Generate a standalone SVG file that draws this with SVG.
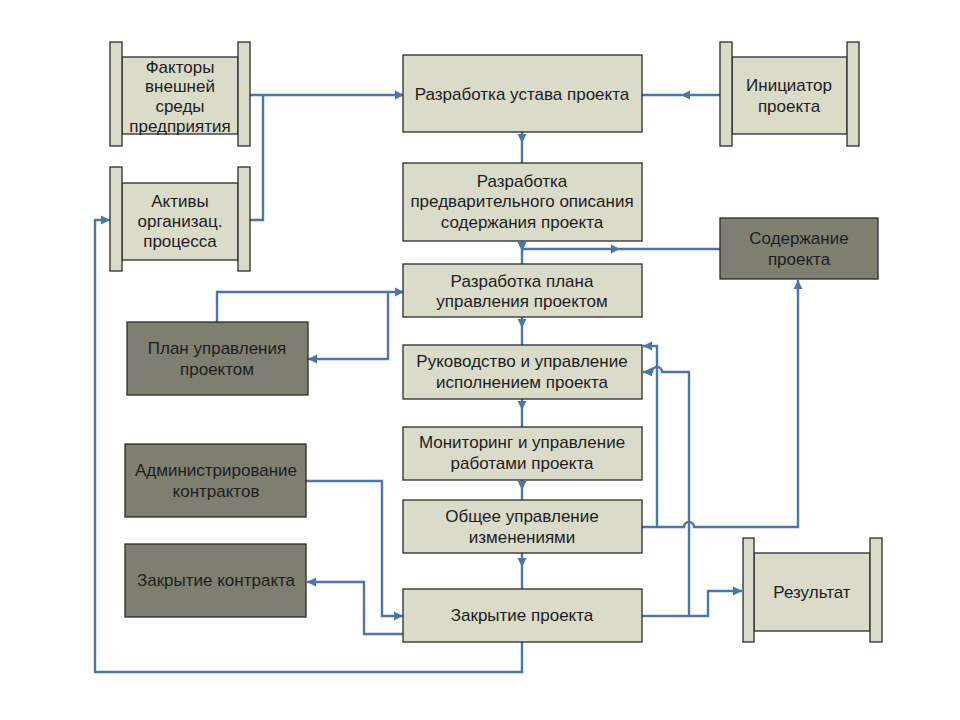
<svg xmlns="http://www.w3.org/2000/svg" xmlns:xlink="http://www.w3.org/1999/xlink" width="960" height="720" viewBox="0 0 960 720">
<style>
.box{fill:#dadbc9;stroke:#2b2b2b;stroke-width:1.3}
.dark{fill:#7e7f71;stroke:#2b2b2b;stroke-width:1.3}
.roll{fill:#dadbc9;stroke:#2b2b2b;stroke-width:1.3}
text{font-family:"Liberation Sans",Arial,sans-serif;font-size:17px;fill:#1e1e1e;text-anchor:middle;dominant-baseline:central}
.ln{fill:none;stroke:#4d75a8;stroke-width:2.4;stroke-linejoin:miter}
.ah{fill:#4d75a8}
</style>
<defs>
<path id="ah" d="M0,0 L-9,-4.5 L-9,4.5 Z"/>
</defs>
<rect width="960" height="720" fill="#ffffff"/>

<g id="connectors">
<path class="ln" d="M250,95 L403,95"/>
<path class="ln" d="M250,220 L263,220 L263,95"/>
<path class="ln" d="M720,95 L642,95"/>
<path class="ln" d="M522,132 L522,163"/>
<path class="ln" d="M522,241 L522,264"/>
<path class="ln" d="M522,249 L720,249"/>
<path class="ln" d="M522,317 L522,345"/>
<path class="ln" d="M522,399 L522,427"/>
<path class="ln" d="M522,480 L522,500"/>
<path class="ln" d="M522,553 L522,589"/>
<path class="ln" d="M217,322 L217,292 L403,292"/>
<path class="ln" d="M388,292 L388,359 L308,359"/>
<path class="ln" d="M657,527 L657,346 L643,346"/>
<path class="ln" d="M689,616 L689,372 L662,372 A5,5 0 0 0 652,372 L643,372"/>
<path class="ln" d="M642,527 L684,527 A5,5 0 0 1 694,527 L798,527 L798,280"/>
<path class="ln" d="M642,616 L708,616 L708,591 L742,591"/>
<path class="ln" d="M306,481 L382,481 L382,616 L403,616"/>
<path class="ln" d="M403,634 L364,634 L364,582 L307,582"/>
<path class="ln" d="M522,642 L522,672 L95,672 L95,220 L110,220"/>
<g class="ah">
<use xlink:href="#ah" transform="translate(404,95)"/>
<use xlink:href="#ah" transform="translate(681,95) rotate(180)"/>
<use xlink:href="#ah" transform="translate(522,143) rotate(90)"/>
<use xlink:href="#ah" transform="translate(522,251) rotate(90)"/>
<use xlink:href="#ah" transform="translate(620,249)"/>
<use xlink:href="#ah" transform="translate(522,328) rotate(90)"/>
<use xlink:href="#ah" transform="translate(522,410) rotate(90)"/>
<use xlink:href="#ah" transform="translate(522,490) rotate(90)"/>
<use xlink:href="#ah" transform="translate(522,567) rotate(90)"/>
<use xlink:href="#ah" transform="translate(404,292)"/>
<use xlink:href="#ah" transform="translate(308,359) rotate(180)"/>
<use xlink:href="#ah" transform="translate(643,346) rotate(180)"/>
<use xlink:href="#ah" transform="translate(643,372) rotate(180)"/>
<use xlink:href="#ah" transform="translate(798,280) rotate(-90)"/>
<use xlink:href="#ah" transform="translate(742,591)"/>
<use xlink:href="#ah" transform="translate(403,616)"/>
<use xlink:href="#ah" transform="translate(307,582) rotate(180)"/>
<use xlink:href="#ah" transform="translate(110,220)"/>
</g>
</g>

<g id="factors">
<rect class="box" x="122" y="57" width="116" height="77"/>
<rect class="roll" x="110" y="42" width="12" height="104"/>
<rect class="roll" x="238" y="42" width="12" height="104"/>
<text x="180" y="67">Факторы</text>
<text x="180" y="86">внешней</text>
<text x="180" y="106">среды</text>
<text x="180" y="126">предприятия</text>
</g>

<g id="assets">
<rect class="box" x="122" y="183" width="116" height="77"/>
<rect class="roll" x="110" y="167" width="12" height="104"/>
<rect class="roll" x="238" y="167" width="12" height="104"/>
<text x="180" y="201">Активы</text>
<text x="180" y="221">организац.</text>
<text x="180" y="241">процесса</text>
</g>

<g id="charter">
<rect class="box" x="403" y="55" width="239" height="77"/>
<text x="522" y="94">Разработка устава проекта</text>
</g>

<g id="initiator">
<rect class="box" x="732" y="57" width="115" height="77"/>
<rect class="roll" x="720" y="42" width="12" height="104"/>
<rect class="roll" x="847" y="42" width="12" height="104"/>
<text x="789" y="85">Инициатор</text>
<text x="789" y="106">проекта</text>
</g>

<g id="scope-prelim">
<rect class="box" x="403" y="163" width="239" height="78"/>
<text x="522" y="181">Разработка</text>
<text x="522" y="201">предварительного описания</text>
<text x="522" y="222">содержания проекта</text>
</g>

<g id="scope">
<rect class="dark" x="720" y="218" width="158" height="61"/>
<text x="799" y="238">Содержание</text>
<text x="799" y="259">проекта</text>
</g>

<g id="plan-dev">
<rect class="box" x="403" y="264" width="239" height="53"/>
<text x="522" y="281">Разработка плана</text>
<text x="522" y="301">управления проектом</text>
</g>

<g id="plan">
<rect class="dark" x="127" y="322" width="181" height="73"/>
<text x="217" y="348">План управления</text>
<text x="217" y="369">проектом</text>
</g>

<g id="execution">
<rect class="box" x="403" y="345" width="239" height="54"/>
<text x="522" y="361">Руководство и управление</text>
<text x="522" y="382">исполнением проекта</text>
</g>

<g id="monitoring">
<rect class="box" x="403" y="427" width="239" height="53"/>
<text x="522" y="442">Мониторинг и управление</text>
<text x="522" y="463">работами проекта</text>
</g>

<g id="change">
<rect class="box" x="403" y="500" width="239" height="53"/>
<text x="522" y="516">Общее управление</text>
<text x="522" y="537">изменениями</text>
</g>

<g id="admin">
<rect class="dark" x="125" y="444" width="181" height="73"/>
<text x="216" y="470">Администрирование</text>
<text x="216" y="491">контрактов</text>
</g>

<g id="contract-close">
<rect class="dark" x="125" y="544" width="181" height="73"/>
<text x="216" y="580">Закрытие контракта</text>
</g>

<g id="project-close">
<rect class="box" x="403" y="589" width="239" height="53"/>
<text x="522" y="615">Закрытие проекта</text>
</g>

<g id="result">
<rect class="box" x="754" y="553" width="116" height="78"/>
<rect class="roll" x="743" y="538" width="11" height="104"/>
<rect class="roll" x="870" y="538" width="12" height="104"/>
<text x="812" y="592">Результат</text>
</g>
</svg>
